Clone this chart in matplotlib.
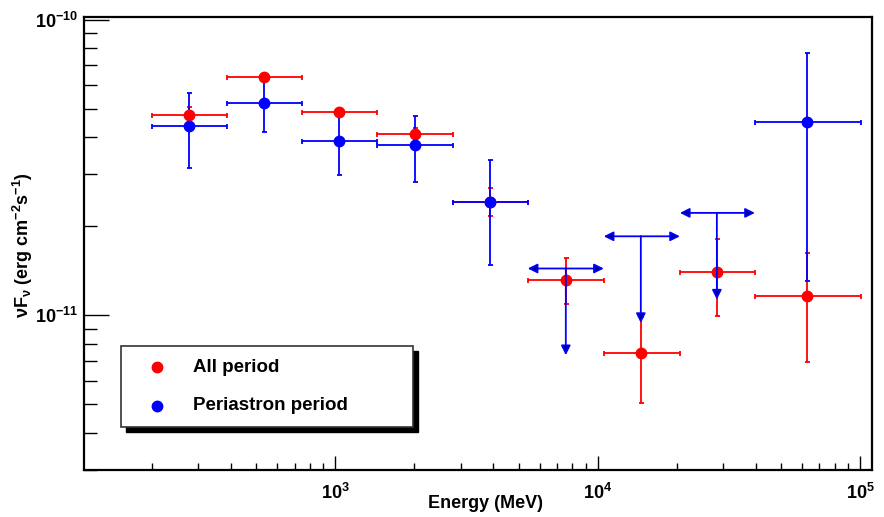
import numpy as np
import matplotlib
matplotlib.use("Agg")
import matplotlib.pyplot as plt
from matplotlib.patches import Rectangle
from matplotlib.lines import Line2D

plt.rcParams['font.family'] = ['Liberation Sans', 'DejaVu Sans']
plt.rcParams['mathtext.fontset'] = 'custom'
plt.rcParams['mathtext.rm'] = 'Liberation Sans'
plt.rcParams['mathtext.it'] = 'Liberation Sans:italic'
plt.rcParams['mathtext.bf'] = 'Liberation Sans:bold'
plt.rcParams['mathtext.default'] = 'regular'

# ---- data ----
energy = [277, 536, 1036, 2003, 3874, 7553, 14590, 28440, 62800]          # MeV, bin centres
e_low = [200, 387, 748, 1445, 2799, 5408, 10540, 20560, 39700]            # bin lower edges
e_high = [387, 748, 1445, 2799, 5408, 10540, 20560, 39700, 100900]        # bin upper edges

all_flux = [4.76e-11, 6.41e-11, 4.88e-11, 4.11e-11, 2.42e-11, 1.32e-11, 7.43e-12, 1.40e-11, 1.16e-11]
all_lo = [4.48e-11, 6.21e-11, 4.69e-11, 3.92e-11, 2.17e-11, 1.09e-11, 5.07e-12, 9.92e-12, 6.93e-12]
all_hi = [5.07e-11, 6.61e-11, 5.03e-11, 4.30e-11, 2.70e-11, 1.56e-11, 9.85e-12, 1.81e-11, 1.62e-11]

peri_idx = [0, 1, 2, 3, 4, 8]
peri_flux = [4.37e-11, 5.23e-11, 3.89e-11, 3.77e-11, 2.42e-11, 4.51e-11]
peri_lo = [3.15e-11, 4.17e-11, 2.98e-11, 2.82e-11, 1.48e-11, 1.31e-11]
peri_hi = [5.66e-11, 6.21e-11, 4.73e-11, 4.73e-11, 3.35e-11, 7.73e-11]

peri_ul_idx = [5, 6, 7]
peri_ul = [1.44e-11, 1.85e-11, 2.22e-11]

legend_labels = ["All period", "Periastron period"]

# ---- figure ----
W, H = 884, 517
fig = plt.figure(figsize=(W / 100, H / 100), dpi=100)
ax = fig.add_axes([84 / W, 1 - 470 / H, (872 - 84) / W, (470 - 17) / H])
ax.set_xscale('log')
ax.set_yscale('log')
ax.set_xlim(110, 1.11e5)
ax.set_ylim(3.0e-12, 1.02e-10)

red = '#ff0000'
blue = '#0000ff'

def draw_series(idx, flux, lo, hi, color):
    x = np.array([energy[i] for i in idx])
    xl = np.array([e_low[i] for i in idx])
    xh = np.array([e_high[i] for i in idx])
    f = np.array(flux)
    ax.errorbar(x, f, xerr=[x - xl, xh - x], yerr=[f - np.array(lo), np.array(hi) - f],
                fmt='o', color=color, ms=7.5, elinewidth=1.3, capsize=1.8, capthick=1.3,
                ecolor=color, alpha=1.0, zorder=3)

draw_series(range(len(energy)), all_flux, all_lo, all_hi, red)
draw_series(peri_idx, peri_flux, peri_lo, peri_hi, blue)

# upper limits
for i, ul in zip(peri_ul_idx, peri_ul):
    x = energy[i]
    tip = ul * 10 ** (-0.293)
    for (xa, ya, xb, yb) in [(x, ul, e_low[i], ul), (x, ul, e_high[i], ul), (x, ul, x, tip)]:
        ax.annotate('', xy=(xb, yb), xytext=(xa, ya),
                    arrowprops=dict(arrowstyle='-|>', color=blue, lw=1.3,
                                    mutation_scale=14, shrinkA=0, shrinkB=0,
                                    fc='#00008c'), zorder=4)

# ---- axes styling (ROOT-like) ----
for s in ax.spines.values():
    s.set_linewidth(1.6)
ax.tick_params(which='both', direction='in', top=False, right=False)
ax.tick_params(axis='x', which='major', length=10, width=1.0)
ax.tick_params(axis='x', which='minor', length=5, width=1.0)
ax.tick_params(axis='y', which='major', length=18, width=1.0)
ax.tick_params(axis='y', which='minor', length=9, width=1.0)

ax.set_xticks([1e3, 1e4, 1e5])
ax.set_xticklabels([r'$10^{3}$', r'$10^{4}$', r'$10^{5}$'], fontsize=13, fontweight='bold')
ax.set_yticks([1e-11, 1e-10])
ax.set_yticklabels([r'$10^{-11}$', r'$10^{-10}$'], fontsize=13, fontweight='bold')
ax.tick_params(axis='x', pad=9)
ax.tick_params(axis='y', pad=4)

fig.text(485 / W, 1 - 503 / H, 'Energy (MeV)', ha='center', va='center', fontsize=13,
         fontweight='bold')
fig.text(23 / W, 1 - 245 / H, r'$\nu$F$_{\nu}$ (erg cm$^{-2}$s$^{-1}$)', ha='center', va='center',
         rotation=90, fontsize=13, fontweight='bold')

# ---- legend with ROOT-style shadow ----
lx0, ly0, lx1, ly1 = 121, 346, 413, 427
sh = 5
fig.add_artist(Rectangle(((lx0 + sh) / W, 1 - (ly1 + sh) / H), (lx1 - lx0) / W, (ly1 - ly0) / H,
                         transform=fig.transFigure, facecolor='black', edgecolor='black', zorder=5))
fig.add_artist(Rectangle((lx0 / W, 1 - ly1 / H), (lx1 - lx0) / W, (ly1 - ly0) / H,
                         transform=fig.transFigure, facecolor='white', edgecolor='#333333',
                         linewidth=1.2, zorder=6))
for yy, col, lab in [(367, red, legend_labels[0]), (406, blue, legend_labels[1])]:
    fig.add_artist(Line2D([157 / W], [1 - yy / H], marker='o', color=col, ms=7.5,
                          transform=fig.transFigure, zorder=7))
    fig.text(193 / W, 1 - yy / H, lab, ha='left', va='center', fontsize=13.5,
             fontweight='bold', zorder=7)

fig.savefig('out.png', dpi=100)
